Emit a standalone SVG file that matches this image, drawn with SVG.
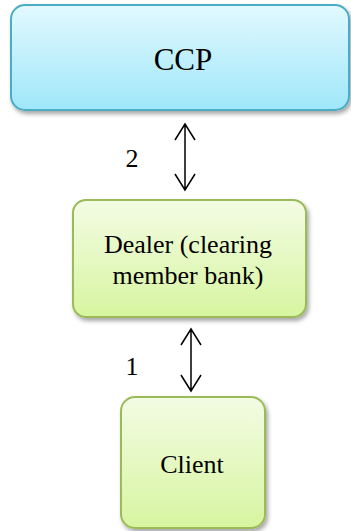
<svg xmlns="http://www.w3.org/2000/svg" width="351" height="531" viewBox="0 0 351 531">
<defs>
<linearGradient id="gBlue" x1="0" y1="0" x2="0" y2="1">
<stop offset="0" stop-color="#e2f9ff"/>
<stop offset="1" stop-color="#9fe7f9"/>
</linearGradient>
<linearGradient id="gGreen" x1="0" y1="0" x2="0" y2="1">
<stop offset="0" stop-color="#f3fce4"/>
<stop offset="1" stop-color="#d7f5a0"/>
</linearGradient>
<filter id="sh" x="-10%" y="-10%" width="125%" height="130%">
<feDropShadow dx="2" dy="3" stdDeviation="2" flood-color="#000" flood-opacity="0.35"/>
</filter>
</defs>
<style>
.blue{fill:url(#gBlue);stroke:#4bacc6;stroke-width:2;filter:url(#sh)}
.green{fill:url(#gGreen);stroke:#9bbb59;stroke-width:2;filter:url(#sh)}
.t{font-family:'Liberation Serif','Times New Roman',serif;fill:#000;text-anchor:middle}
.conn{fill:none;stroke:#000;stroke-width:1.5}
</style>
<rect width="351" height="531" fill="#fff"/>
<g id="ccp">
<rect class="blue" x="11" y="5" width="338" height="105" rx="14"/>
<text class="t" font-family="Liberation Serif, serif" x="183" y="70" font-size="31">CCP</text>
</g>
<g id="dealer">
<rect class="green" x="73" y="200" width="233" height="117" rx="13"/>
<text class="t" font-family="Liberation Serif, serif" x="188" y="253" font-size="26">Dealer (clearing</text>
<text class="t" font-family="Liberation Serif, serif" x="188" y="284" font-size="26">member bank)</text>
</g>
<g id="client">
<rect class="green" x="121" y="397" width="144" height="131" rx="14"/>
<text class="t" font-family="Liberation Serif, serif" x="192" y="473" font-size="26">Client</text>
</g>
<g id="connectors">
<path class="conn" d="M185 124V190M175 140L185 124L195 140M175 174L185 190L195 174"/>
<path class="conn" d="M191 329V391M181 345L191 329L201 345M181 375L191 391L201 375"/>
<text class="t" font-family="Liberation Serif, serif" x="132" y="167" font-size="26">2</text>
<text class="t" font-family="Liberation Serif, serif" x="132" y="375" font-size="26">1</text>
</g>
</svg>
